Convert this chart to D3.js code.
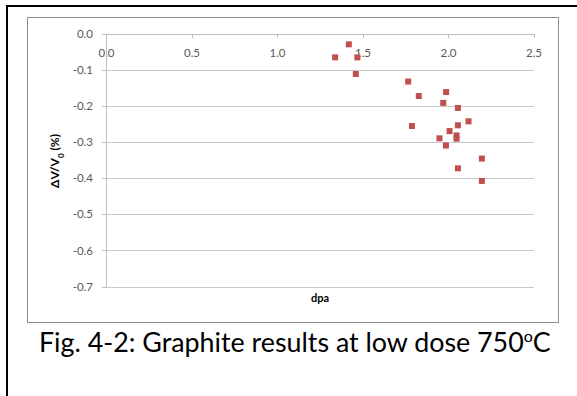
<!DOCTYPE html>
<html>
  <head>
    <meta charset="utf-8">
    <script src="https://cdn.jsdelivr.net/npm/d3@7"></script>
    <style type="text/css">
      body { margin: 0; background: #fff; }
      .axis text { font-family: Lato, "Open Sans", sans-serif; font-size: 11.5px; fill: #595959; }
      .axis path, .axis line { stroke: #bfbfbf; shape-rendering: crispEdges; }
      .grid line { stroke: #c8c8c8; shape-rendering: crispEdges; }
    </style>
  </head>
  <body>
    <div class="plot_canvas"></div>
    <script>
      // values
      var dpa = [1.42, 1.34, 1.47, 1.461, 1.767, 1.829, 1.989, 1.972, 2.058, 1.789,
                 2.12, 2.058, 2.009, 2.05, 2.05, 1.95, 1.988, 2.198, 2.058, 2.198];
      var dV = [-0.030, -0.066, -0.066, -0.112, -0.133, -0.173, -0.162, -0.192, -0.206, -0.256,
                -0.243, -0.254, -0.270, -0.282, -0.291, -0.290, -0.310, -0.346, -0.373, -0.408];
      var xTicks = [0, 0.5, 1.0, 1.5, 2.0, 2.5];
      var yTicks = [0, -0.1, -0.2, -0.3, -0.4, -0.5, -0.6, -0.7];
      var caption = "Fig. 4-2: Graphite results at low dose 750";

      var width = 577;
      var height = 396;
      var col_red = "#c0504d";

      var svg = d3.select(".plot_canvas")
        .append("svg")
        .attr("width", width)
        .attr("height", height);

      // page frame (left and top)
      svg.append("path")
        .attr("d", "M7,396 V6 H577")
        .attr("fill", "none")
        .attr("stroke", "#000")
        .attr("stroke-width", 2);

      // chart box
      svg.append("rect")
        .attr("x", 27.5).attr("y", 17.5)
        .attr("width", 531).attr("height", 305)
        .attr("fill", "#fff")
        .attr("stroke", "#8c8c8c")
        .attr("stroke-width", 1);

      var xScale = d3.scaleLinear().domain([0, 2.5]).range([106, 533.5]);
      var yScale = d3.scaleLinear().domain([0, -0.7]).range([33.5, 286.5]);
      var fmt = function (d) { return d.toFixed(1); };

      // gridlines
      svg.append("g").attr("class", "grid")
        .selectAll("line")
        .data(yTicks.slice(1)).enter()
        .append("line")
        .attr("x1", xScale(0)).attr("x2", xScale(2.5))
        .attr("y1", function (d) { return Math.round(yScale(d)) + 0.5; })
        .attr("y2", function (d) { return Math.round(yScale(d)) + 0.5; });

      // x axis sits on y = 0, labels below
      var xAxis = d3.axisBottom(xScale)
        .tickValues(xTicks)
        .tickFormat(fmt)
        .tickSizeInner(4)
        .tickSizeOuter(0)
        .tickPadding(11);
      svg.append("g").attr("class", "axis")
        .attr("transform", "translate(0," + yScale(0) + ")")
        .call(xAxis);

      var yAxis = d3.axisLeft(yScale)
        .tickValues(yTicks)
        .tickFormat(fmt)
        .tickSizeInner(4)
        .tickSizeOuter(0)
        .tickPadding(9);
      svg.append("g").attr("class", "axis")
        .attr("transform", "translate(" + xScale(0) + ",0)")
        .call(yAxis);

      // points
      svg.append("g")
        .selectAll("rect")
        .data(d3.range(dpa.length)).enter()
        .append("rect")
        .attr("x", function (i) { return xScale(dpa[i]) - 3; })
        .attr("y", function (i) { return yScale(dV[i]) - 3; })
        .attr("width", 6)
        .attr("height", 6)
        .attr("fill", col_red);

      // axis titles
      svg.append("text")
        .attr("x", 320).attr("y", 302)
        .attr("text-anchor", "middle")
        .style("font-family", "Lato, sans-serif")
        .style("font-size", "11px")
        .style("font-weight", "bold")
        .attr("fill", "#000")
        .text("dpa");

      var yTitle = svg.append("text")
        .attr("transform", "translate(59,161) rotate(-90)")
        .attr("text-anchor", "middle")
        .style("font-family", "Lato, sans-serif")
        .style("font-size", "12px")
        .style("font-weight", "bold")
        .attr("fill", "#000");
      yTitle.append("tspan").text("\u0394V/V");
      yTitle.append("tspan").attr("baseline-shift", "sub").style("font-size", "8px").text("0");
      yTitle.append("tspan").text(" (%)");

      // caption
      var cap = svg.append("text")
        .attr("x", 39).attr("y", 351.5)
        .style("font-family", "Lato, sans-serif")
        .style("font-size", "24px")
        .attr("fill", "#000");
      cap.append("tspan").text(caption);
      cap.append("tspan").attr("dy", -10).style("font-size", "16px").text("o");
      cap.append("tspan").attr("dy", 10).text("C");
      var w = cap.node().getComputedTextLength();
      cap.style("font-size", (24 * 513 / w) + "px");
    </script>
  </body>
</html>
